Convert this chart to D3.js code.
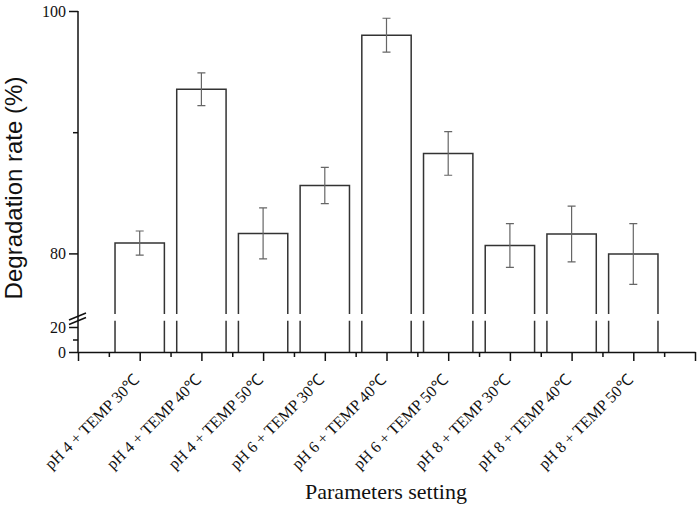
<!DOCTYPE html>
<html>
<head>
<meta charset="utf-8">
<script src="https://cdn.jsdelivr.net/npm/d3@7"></script>
<style>
body { margin: 0; background: #fff; }
svg { display: block; }
</style>
</head>
<body>
<script>
// values
var categories = [
	"pH 4 + TEMP 30℃",
	"pH 4 + TEMP 40℃",
	"pH 4 + TEMP 50℃",
	"pH 6 + TEMP 30℃",
	"pH 6 + TEMP 40℃",
	"pH 6 + TEMP 50℃",
	"pH 8 + TEMP 30℃",
	"pH 8 + TEMP 40℃",
	"pH 8 + TEMP 50℃"
];
var rates = [80.85, 93.55, 81.65, 85.6, 98.0, 88.25, 80.65, 81.6, 79.95];
var errors = [1.0, 1.35, 2.1, 1.5, 1.4, 1.8, 1.8, 2.3, 2.5];
var upperTicks = [80, 100];
var upperMinor = [90];
var lowerTicks = [0, 20];
var lowerMinor = [10];

var SERIF = "Liberation Serif, Times New Roman, serif";
var width = 700, height = 509;
var svg = d3.select("body").append("svg")
	.attr("width", width)
	.attr("height", height);

var x = d3.scaleLinear().domain([0, 10]).range([78, 695]);
var yUp = d3.scaleLinear().domain([75, 100]).range([314, 11]);
var yLo = d3.scaleLinear().domain([0, 25]).range([352, 320.75]);
var barW = 0.8;
var stroke = "#333";

// bars: upper segment (top + sides) and lower stubs (sides only)
var bars = svg.append("g")
	.attr("fill", "none")
	.attr("stroke", stroke)
	.attr("stroke-width", 1.5);
bars.selectAll("path.up")
	.data(rates)
	.enter().append("path")
		.attr("class", "up")
		.attr("d", function(d, i) {
			var x0 = x(i + 1 - barW / 2), x1 = x(i + 1 + barW / 2);
			return "M" + x0 + "," + yUp(75) + "V" + yUp(d) + "H" + x1 + "V" + yUp(75);
		});
bars.selectAll("path.lo")
	.data(rates)
	.enter().append("path")
		.attr("class", "lo")
		.attr("d", function(d, i) {
			var x0 = x(i + 1 - barW / 2), x1 = x(i + 1 + barW / 2);
			return "M" + x0 + "," + yLo(25) + "V" + yLo(0) + "M" + x1 + "," + yLo(25) + "V" + yLo(0);
		});

// error bars
var err = svg.append("g")
	.attr("fill", "none")
	.attr("stroke", "#666")
	.attr("stroke-width", 1.2);
err.selectAll("path")
	.data(rates)
	.enter().append("path")
		.attr("d", function(d, i) {
			var cx = x(i + 1), t = yUp(d + errors[i]), b = yUp(d - errors[i]);
			return "M" + (cx - 4) + "," + t + "H" + (cx + 4) +
				"M" + cx + "," + t + "V" + b +
				"M" + (cx - 4) + "," + b + "H" + (cx + 4);
		});

// x axis
svg.append("g")
	.attr("transform", "translate(0," + yLo(0) + ")")
	.call(d3.axisBottom(x).tickValues(d3.range(0, 11)).tickSize(9).tickSizeOuter(0).tickFormat(""));
svg.append("g")
	.attr("transform", "translate(0," + yLo(0) + ")")
	.call(d3.axisBottom(x).tickValues(d3.range(0.5, 10, 1)).tickSize(5).tickSizeOuter(0).tickFormat(""))
	.select(".domain").remove();

svg.append("g")
	.selectAll("text")
	.data(categories)
	.enter().append("text")
		.attr("transform", function(d, i) { return "translate(" + (x(i + 1) + 1) + ",381) rotate(-45)"; })
		.attr("text-anchor", "end")
		.style("font-family", SERIF)
		.attr("font-size", 16)
		.attr("fill", "#111")
		.text(function(d) { return d; });

// y axes (two segments of one axis)
function yAxis(scale, ticks, minor) {
	var g = svg.append("g").attr("transform", "translate(" + x(0) + ",0)");
	g.call(d3.axisLeft(scale).tickValues(ticks).tickSize(9).tickPadding(3).tickSizeOuter(0));
	g.select(".domain").remove();
	g.selectAll("text")
		.style("font-family", SERIF)
		.style("font-size", "16px")
		.attr("fill", "#111");
	var m = svg.append("g").attr("transform", "translate(" + x(0) + ",0)");
	m.call(d3.axisLeft(scale).tickValues(minor).tickSize(5).tickFormat(""));
	m.select(".domain").remove();
}
yAxis(yUp, upperTicks, upperMinor);
yAxis(yLo, lowerTicks, lowerMinor);

svg.selectAll(".domain, .tick line")
	.attr("stroke", "#111")
	.attr("stroke-width", 1.5);

svg.append("line")
	.attr("x1", x(0)).attr("x2", x(0))
	.attr("y1", yUp(100)).attr("y2", yLo(0))
	.attr("stroke", "#111")
	.attr("stroke-width", 1.5);

// break marks
var brk = svg.append("g").attr("stroke", "#111").attr("stroke-width", 1.5);
[0, 4.5].forEach(function(off) {
	brk.append("line")
		.attr("x1", x(0) - 9).attr("y1", 320 + off)
		.attr("x2", x(0) + 8).attr("y2", 313 + off);
});

// titles
svg.append("text")
	.attr("transform", "translate(22,188) rotate(-90)")
	.attr("text-anchor", "middle")
	.style("font-family", "Liberation Sans, Arial, sans-serif")
	.attr("font-size", 24)
	.attr("fill", "#111")
	.text("Degradation rate (%)");

svg.append("text")
	.attr("x", 386)
	.attr("y", 499)
	.attr("text-anchor", "middle")
	.style("font-family", SERIF)
	.attr("font-size", 22)
	.attr("fill", "#111")
	.text("Parameters setting");
</script>
</body>
</html>
